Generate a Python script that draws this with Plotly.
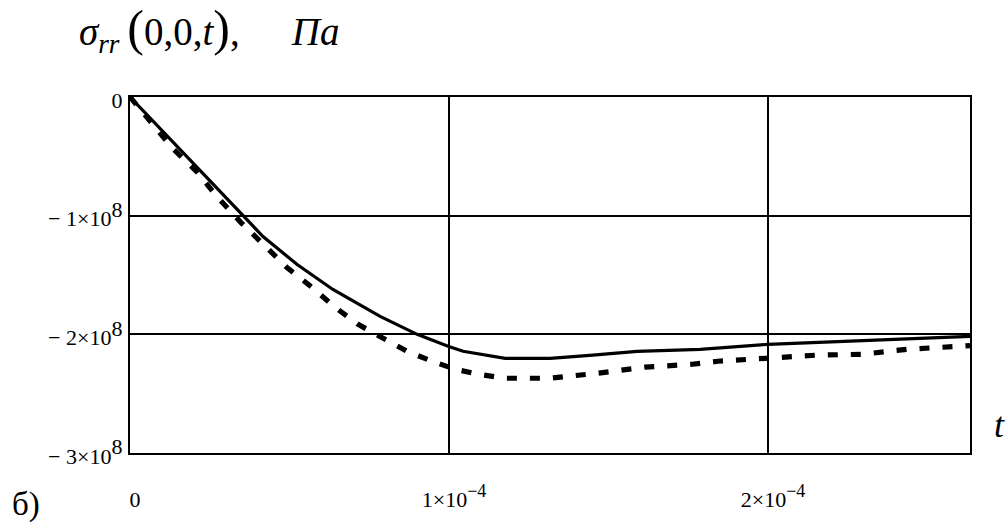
import plotly.graph_objects as go

# time, s
t_solid = [0.0, 1.79e-5, 3.54e-5, 4.17e-5, 5.24e-5, 6.36e-5, 7.84e-5, 9.0e-5,
           9.97e-5, 1.044e-4, 1.176e-4, 1.317e-4, 1.451e-4, 1.589e-4, 1.787e-4,
           2.0e-4, 2.633e-4]
# stress, Pa
s_solid = [0.0, -0.504e8, -1.0e8, -1.176e8, -1.412e8, -1.622e8, -1.849e8, -2.0e8,
           -2.10e8, -2.143e8, -2.202e8, -2.202e8, -2.176e8, -2.143e8, -2.126e8,
           -2.084e8, -2.017e8]

t_dash = [0.0, 7.2e-6, 1.35e-5, 2.10e-5, 2.73e-5, 3.45e-5, 4.17e-5, 4.92e-5,
          5.71e-5, 6.43e-5, 7.15e-5, 7.93e-5, 8.68e-5, 9.47e-5, 1.019e-4,
          1.091e-4, 1.176e-4, 1.317e-4, 1.395e-4, 1.464e-4, 1.614e-4, 1.762e-4,
          1.843e-4, 2.0e-4, 2.147e-4, 2.295e-4, 2.436e-4, 2.596e-4, 2.633e-4]
s_dash = [0.0, -0.235e8, -0.437e8, -0.630e8, -0.840e8, -1.050e8, -1.244e8, -1.437e8,
          -1.605e8, -1.773e8, -1.916e8, -2.034e8, -2.143e8, -2.227e8, -2.294e8,
          -2.336e8, -2.370e8, -2.370e8, -2.353e8, -2.328e8, -2.277e8, -2.252e8,
          -2.227e8, -2.202e8, -2.176e8, -2.168e8, -2.126e8, -2.101e8, -2.095e8]

x_ticks = [0.0, 1e-4, 2e-4]
x_ticktext = ["0",
              "1×10<sup><span style='font-size:18px'>−4</span></sup>",
              "2×10<sup><span style='font-size:18px'>−4</span></sup>"]
y_ticks = [0.0, -1e8, -2e8, -3e8]
y_ticktext = ["0",
              "− 1×10<sup><span style='font-size:22px'>8</span></sup>",
              "− 2×10<sup><span style='font-size:22px'>8</span></sup>",
              "− 3×10<sup><span style='font-size:22px'>8</span></sup>"]

SERIF = "Liberation Serif, Times New Roman, serif"

fig = go.Figure()
fig.add_trace(go.Scatter(x=t_solid, y=s_solid, mode="lines",
                         line=dict(color="black", width=3.2),
                         showlegend=False, hoverinfo="skip"))
fig.add_trace(go.Scatter(x=t_dash, y=s_dash, mode="lines",
                         line=dict(color="black", width=5.2, dash="10px,13px"),
                         showlegend=False, hoverinfo="skip"))

axis_common = dict(showline=True, mirror=True, linecolor="black", linewidth=2.4,
                   showgrid=True, gridcolor="black", gridwidth=2,
                   zeroline=False, ticks="",
                   tickfont=dict(family=SERIF, size=22, color="black"))

fig.update_xaxes(range=[0, 2.633e-4], tickvals=x_ticks, ticktext=x_ticktext,
                 ticklabelstandoff=25, ticklabelshift=5, **axis_common)
fig.update_yaxes(range=[-3e8, 0], tickvals=y_ticks, ticktext=y_ticktext,
                 ticklabelstandoff=1, ticklabelshift=3, **axis_common)

big = "<span style='font-size:50px'>{}</span>"
title_text = ("<i>σ</i><sub><i>rr</i></sub>\u2009" + big.format("(") + "0,0,<i>t</i>"
              + big.format(")") + "," + "\u00a0" * 5 + "\u200a<i>Па</i>")

fig.add_annotation(text=title_text, xref="paper", yref="paper", x=-0.063, y=1.19,
                   xanchor="left", yanchor="middle", showarrow=False,
                   font=dict(family=SERIF, size=39, color="black"))
fig.add_annotation(text="<i>t</i>", xref="paper", yref="paper", x=1.035, y=0.08,
                   xanchor="center", yanchor="middle", showarrow=False,
                   font=dict(family=SERIF, size=36, color="black"))
fig.add_annotation(text="б)", xref="paper", yref="paper", x=-0.143, y=-0.145,
                   xanchor="left", yanchor="middle", showarrow=False,
                   font=dict(family=SERIF, size=33, color="black"))

fig.update_layout(width=1008, height=524,
                  margin=dict(l=130, r=38, t=97, b=71),
                  paper_bgcolor="white", plot_bgcolor="white")

fig.write_html("out.html")
